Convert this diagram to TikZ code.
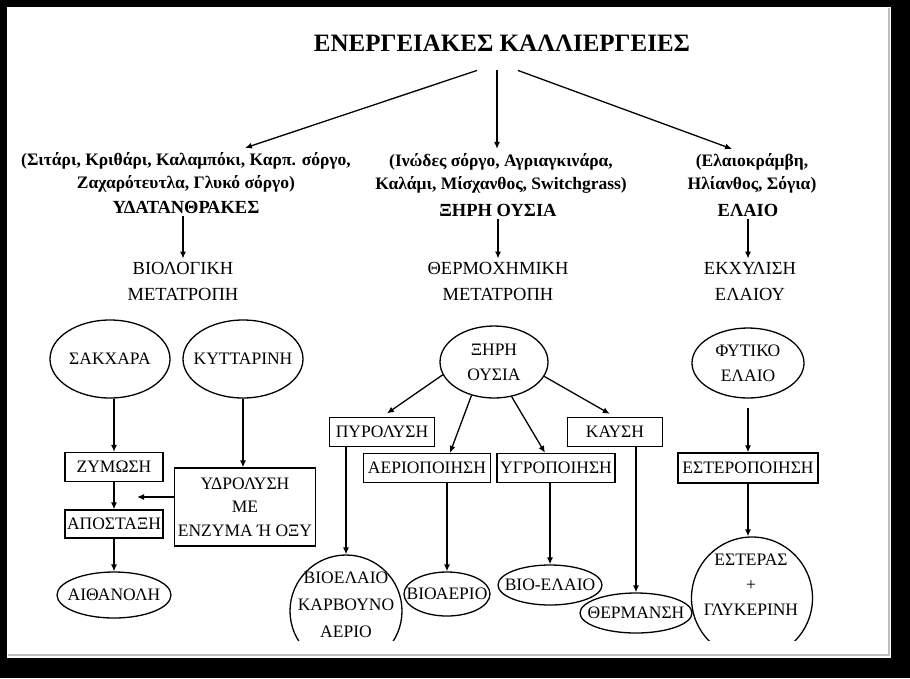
\documentclass[tikz,border=0pt]{standalone}
\usepackage{fontspec}
\setmainfont{Liberation Serif}
\usetikzlibrary{arrows.meta,positioning,calc,shapes.geometric}
\tikzset{
  ttl/.style  = {font=\bfseries\fontsize{25}{29}\selectfont, inner sep=1pt},
  crop/.style = {font=\bfseries\fontsize{17.5}{23}\selectfont, align=center, inner sep=1pt},
  grp/.style  = {font=\bfseries\fontsize{18.5}{24}\selectfont, inner sep=3pt},
  txt/.style  = {font=\fontsize{18.5}{26}\selectfont, align=center, inner sep=3pt},
  proc/.style = {rectangle, draw, line width=1.3pt, font=\fontsize{17.5}{24}\selectfont,
                 align=center, inner sep=0pt, minimum height=29pt},
  prod/.style = {ellipse, draw, line width=1.3pt, inner sep=0pt},
  ptxt/.style = {font=\fontsize{17.5}{26}\selectfont, align=center, inner sep=0pt},
  ar/.style   = {-{Latex[length=7pt,width=6pt]}, line width=1.3pt},
}
\begin{document}
\begin{tikzpicture}[x=1pt,y=-1pt]
  \useasboundingbox (0,0) rectangle (910,678);
  \fill[black] (0,0) rectangle (910,678);
  \fill[white] (7,7) rectangle (891,658);
  \draw[black!25, line width=2pt] (8,655) -- (889,655) -- (889,8);
  \begin{scope}
  \clip (7,7) rectangle (891,640);
  % title and the three crop groups
  \node[ttl] (tt) at (502,43) {ΕΝΕΡΓΕΙΑΚΕΣ ΚΑΛΛΙΕΡΓΕΙΕΣ};
  \node[crop] (lcrop) at (186,172) {(Σιτάρι, Κριθάρι, Καλαμπόκι, Καρπ. σόργο,\\Ζαχαρότευτλα, Γλυκό σόργο)};
  \node[crop] (mcrop) at (501,173) {(Ινώδες σόργο, Αγριαγκινάρα,\\Καλάμι, Μίσχανθος, Switchgrass)};
  \node[crop] (rcrop) at (752,173) {(Ελαιοκράμβη,\\Ηλίανθος, Σόγια)};
  \node[grp] (lcarb) at (186,207) {ΥΔΑΤΑΝΘΡΑΚΕΣ};
  \node[grp] (mdry) at (498,210) {ΞΗΡΗ ΟΥΣΙΑ};
  \node[grp] (roil) at (748,210) {ΕΛΑΙΟ};
  \node[txt] (lconv) at (183,281) {ΒΙΟΛΟΓΙΚΗ\\ΜΕΤΑΤΡΟΠΗ};
  \node[txt] (mconv) at (498,281) {ΘΕΡΜΟΧΗΜΙΚΗ\\ΜΕΤΑΤΡΟΠΗ};
  \node[txt] (rconv) at (750,281) {ΕΚΧΥΛΙΣΗ\\ΕΛΑΙΟΥ};
  \draw[ar] ($(tt.south)+(-25,18)$) -- ($(lcrop.north)+(59,-3)$);
  \draw[ar] ($(tt.south)+(-5,18)$) -- ($(mcrop.north)+(-4,-3)$);
  \draw[ar] ($(tt.south)+(16,18)$) -- ($(rcrop.north)+(-20,-3)$);
  \draw[ar] (lcarb.south -| lconv.north) -- (lconv.north);
  \draw[ar] (mdry.south) -- (mconv.north);
  \draw[ar] (roil.south) -- (roil.south |- rconv.north);
  % biological conversion
  \node[prod, minimum width=120pt, minimum height=78pt] (sak) at (110,359) {};
  \node[ptxt] (sak-l) at (sak) {ΣΑΚΧΑΡΑ};
  \node[prod, minimum width=120pt, minimum height=78pt] (kyt) at (243,359) {};
  \node[ptxt] (kyt-l) at (kyt) {ΚΥΤΤΑΡΙΝΗ};
  \node[proc, minimum width=98pt] (zym) at (114,467) {ΖΥΜΩΣΗ};
  \node[proc, minimum width=98pt, minimum height=28pt] (apo) at (114,524) {ΑΠΟΣΤΑΞΗ};
  \node[proc, minimum width=141pt, minimum height=78pt, font=\fontsize{17.5}{23.5}\selectfont] (ydr) at (245,507) {ΥΔΡΟΛΥΣΗ\\ΜΕ\\ΕΝΖΥΜΑ Ή ΟΞΥ};
  \node[prod, minimum width=114pt, minimum height=46pt] (ait) at (114,595) {};
  \node[ptxt] (ait-l) at (ait) {ΑΙΘΑΝΟΛΗ};
  \coordinate (mrg) at (137,497);
  \draw[ar] (zym.north |- sak.south) -- (zym.north);
  \draw[ar] (zym) -- (apo);
  \draw[ar] (apo) -- (ait);
  \draw[ar] (kyt.south) -- (kyt.south |- ydr.north);
  \draw[ar] (ydr.west |- mrg) -- (mrg);
  % thermochemical conversion
  \node[prod, minimum width=108pt, minimum height=72pt] (xir) at (494,362) {};
  \node[ptxt, font=\fontsize{17.5}{25}\selectfont] (xir-l) at (xir) {ΞΗΡΗ\\ΟΥΣΙΑ};
  \node[proc, minimum width=105pt] (pyr) at (382,432) {ΠΥΡΟΛΥΣΗ};
  \node[proc, minimum width=127pt] (aer) at (427,468) {ΑΕΡΙΟΠΟΙΗΣΗ};
  \node[proc, minimum width=118pt] (ygr) at (556,468) {ΥΓΡΟΠΟΙΗΣΗ};
  \node[proc, minimum width=95pt] (kay) at (615,432) {ΚΑΥΣΗ};
  \node[prod, minimum width=112pt, minimum height=112pt] (vio) at (346,611) {};
  \node[ptxt, font=\fontsize{17.5}{27}\selectfont] (vio-l) at (346,605) {ΒΙΟΕΛΑΙΟ\\ΚΑΡΒΟΥΝΟ\\ΑΕΡΙΟ};
  \node[prod, minimum width=86pt, minimum height=44pt] (vaer) at (447,594) {};
  \node[ptxt] (vaer-l) at (vaer) {ΒΙΟΑΕΡΙΟ};
  \node[prod, minimum width=104pt, minimum height=40pt] (vel) at (550,585) {};
  \node[ptxt] (vel-l) at (vel) {ΒΙΟ-ΕΛΑΙΟ};
  \node[prod, minimum width=112pt, minimum height=40pt] (thm) at (636,613) {};
  \node[ptxt] (thm-l) at (thm) {ΘΕΡΜΑΝΣΗ};
  \draw[ar, shorten >=6pt] (xir.194) -- (pyr.north);
  \draw[ar] (xir.236) -- ($(aer.north)+(23,0)$);
  \draw[ar] (xir.297) -- ($(ygr.north)+(-11,0)$);
  \draw[ar, shorten >=6pt] (xir.344) -- (kay.north);
  \draw[ar] (pyr.south -| vio.north) -- (vio.north);
  \draw[ar] (aer.south -| vaer.north) -- (vaer.north);
  \draw[ar] (ygr.south -| vel.north) -- (vel.north);
  \draw[ar] (kay.south -| thm.north) -- (thm.north);
  % oil extraction
  \node[prod, minimum width=112pt, minimum height=70pt] (fyt) at (748,363) {};
  \node[ptxt, font=\fontsize{17.5}{25}\selectfont] (fyt-l) at (fyt) {ΦΥΤΙΚΟ\\ΕΛΑΙΟ};
  \node[proc, minimum width=140pt, minimum height=30pt] (est) at (748,468) {ΕΣΤΕΡΟΠΟΙΗΣΗ};
  \node[prod, minimum width=121pt, minimum height=122pt] (esg) at (752,598) {};
  \node[ptxt, font=\fontsize{17.5}{25}\selectfont] (esg-l) at (751,585) {ΕΣΤΕΡΑΣ\\+\\ΓΛΥΚΕΡΙΝΗ};
  \draw[ar, shorten <=9pt] (fyt.south) -- (est.north);
  \draw[ar] (est.south) -- (est.south |- esg.north);
  \end{scope}
\end{tikzpicture}
\end{document}
